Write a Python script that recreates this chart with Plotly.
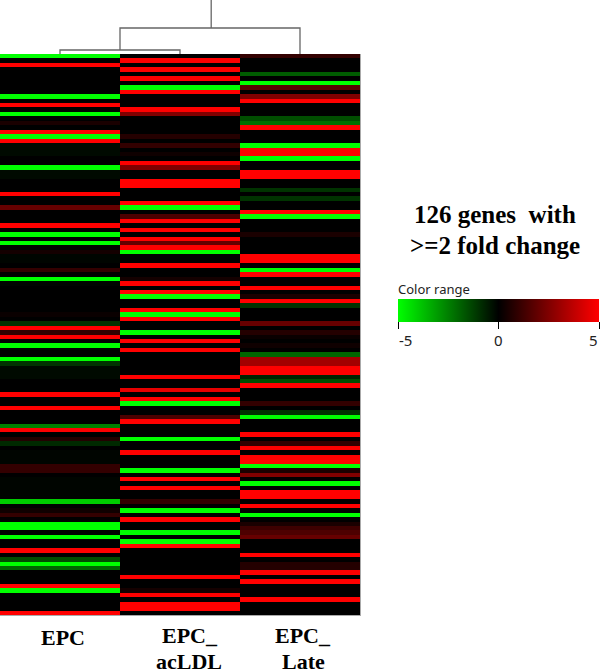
import plotly.graph_objects as go

SAMPLES = ["EPC", "EPC_acLDL", "EPC_Late"]
EPC = [
    -5,0,5,0,0,0,0,0,0,-5,
    0,5,0,-5,0,.5,0,5,-5,5,
    -.2,-.2,-.2,0,0,-5,-.2,-.2,0,0,
    0,5,0,0,2,0,0,0,5,0,
    -5,0,-5,0,.4,-.1,-.1,0,1,0,
    -5,-.1,0,0,0,0,0,0,.2,0,
    -1,5,1,5,0,-5,0,0,-5,-1,
    -.2,-.2,-.2,0,0,0,5,0,0,5,
    0,0,0,-2.5,5,0,.7,-.8,0,-.1,
    -.1,-.1,1,1,0,-.1,-.1,-.1,-.1,-.1,
    -4,0,.3,1,0,-5,-5,0,-5,0,
    0,5,0,-1.5,-5,-2,0,0,0,5,
    -5,0,0,0,0,5,
]
EPC_ACLDL = [
    0,5,0,5,0,5,0,-5,5,0,
    0,0,5,2.5,0,0,0,0,.7,0,
    1,0,.3,0,5,2.5,0,0,5,5,
    0,0,0,5,-5,0,1.5,5,0,5,
    0,5,2,5,-5,0,0,5,0,0,
    .4,5,0,5,-5,0,0,5,-5,5,
    0,0,-5,0,5,0,5,0,0,0,
    0,0,5,0,0,4.5,0,5,-5,0,
    0,1.5,5,0,0,0,-5,0,0,5,
    0,0,0,-5,0,5,0,5,0,0,
    1,0,-5,0,5,0,0,-5,0,-5,
    5,0,0,0,0,0,0,5,0,0,
    .4,5,0,5,5,0,
]
EPC_LATE = [
    1,0,0,0,-1.8,0,-5,1.7,0,2.5,
    5,0,0,0,-1.5,-2.2,5,0,0,0,
    -5,5,5,-5,0,0,5,5,0,0,
    -1,0,-1,0,0,5,-5,0,0,0,
    .5,0,0,0,0,5,5,0,-5,5,
    0,0,5,0,.5,5,-1,0,0,0,
    2,0,.7,.2,0,.3,0,-2,3.2,3.2,
    5,5,-.7,-1.5,5,0,0,0,1,0,
    -1,-5,0,0,0,5,0,1,5,0,
    5,5,-5,.5,2.5,0,-5,0,5,5,
    0,5,0,-5,0,.5,1.2,1.5,2,0,
    0,0,5,0,.7,.7,5,0,5,0,
    0,0,5,0,0,0,
]
GENE_ROWS = list(range(len(EPC)))
COLORBAR_TICKS = [-5, 0, 5]

# dendrogram: column positions and merge heights
DENDRO_X = [[0, 0, 1, 1], [0.5, 0.5, 2, 2], [1.26, 1.26]]
DENDRO_Y = [[0, 4, 4, 0], [4, 26, 26, 0], [26, 54]]

W, H = 600, 670
fig = go.Figure()

z = [[a, b, c] for a, b, c in zip(EPC, EPC_ACLDL, EPC_LATE)]
fig.add_trace(go.Heatmap(
    z=z, x=[0, 1, 2], y=GENE_ROWS, zmin=-5, zmax=5, xaxis="x", yaxis="y",
    colorscale=[[0, "#00ff00"], [0.5, "#000000"], [1, "#ff0000"]],
    hoverinfo="skip",
    colorbar=dict(
        orientation="h", lenmode="pixels", len=201, thicknessmode="pixels", thickness=23,
        x=398 / W, xanchor="left", y=1 - 299 / H, yanchor="top", ypad=0, xpad=0,
        outlinewidth=0, ticks="outside", ticklen=7, tickcolor="#000", tickwidth=1,
        tickvals=COLORBAR_TICKS, showticklabels=False,
    ),
))

for dx, dy in zip(DENDRO_X, DENDRO_Y):
    fig.add_trace(go.Scatter(x=dx, y=dy, mode="lines", xaxis="x2", yaxis="y2",
                             line=dict(color="#666666", width=1.3), hoverinfo="skip",
                             showlegend=False))

serif = dict(family="Liberation Serif", color="#000")
labels = [(62.5, 637, "EPC"), (189.5, 635, "EPC_"), (189, 661, "acLDL"), (302.5, 635, "EPC_"), (303, 661, "Late")]
annotations = [
    dict(x=px / W, xref="paper", y=1 - py / H, yref="paper", text=f"<b>{t}</b>", showarrow=False,
         xanchor="center", yanchor="middle", font=dict(size=22, **serif))
    for px, py, t in labels
]
annotations += [
    dict(x=495 / W, xref="paper", y=1 - py / H, yref="paper", text=f"<b>{t}</b>", showarrow=False,
         xanchor="center", yanchor="middle", font=dict(size=25, **serif))
    for py, t in [(214, "126 genes\u00a0\u00a0with"), (245, ">=2 fold change")]
]
annotations.append(dict(x=396 / W, xref="paper", y=1 - 289 / H, yref="paper", text="Color range",
                        showarrow=False, xanchor="left", yanchor="middle",
                        font=dict(family="Noto Sans", size=13, color="#222")))
for px, tick in zip([405, 498, 593], COLORBAR_TICKS):
    annotations.append(dict(x=px / W, xref="paper", y=1 - 340 / H, yref="paper", text=str(tick),
                            showarrow=False, xanchor="center", yanchor="middle",
                            font=dict(family="Noto Sans", size=15, color="#222")))

fig.update_layout(
    width=W, height=H, margin=dict(l=0, r=0, t=0, b=0), paper_bgcolor="#fff", plot_bgcolor="#fff",
    showlegend=False, annotations=annotations,
    xaxis=dict(domain=[0, 360 / W], range=[-0.5, 2.5], showticklabels=False, ticks="",
               showgrid=False, zeroline=False, showline=True, linecolor="#aaaaaa", linewidth=1),
    yaxis=dict(domain=[1 - 615 / H, 1 - 54 / H], range=[125.5, -0.5], showticklabels=False, ticks="",
               showgrid=False, zeroline=False, side="right", showline=True, linecolor="#aaaaaa", linewidth=1),
    xaxis2=dict(domain=[0, 360 / W], range=[-0.5, 2.5], visible=False, anchor="y2"),
    yaxis2=dict(domain=[1 - 54 / H, 1], range=[0, 54], visible=False, anchor="x2"),
)

fig.write_html("out.html", config={"displayModeBar": False},
               post_script="document.body.style.margin='0';document.body.style.overflow='hidden';")
